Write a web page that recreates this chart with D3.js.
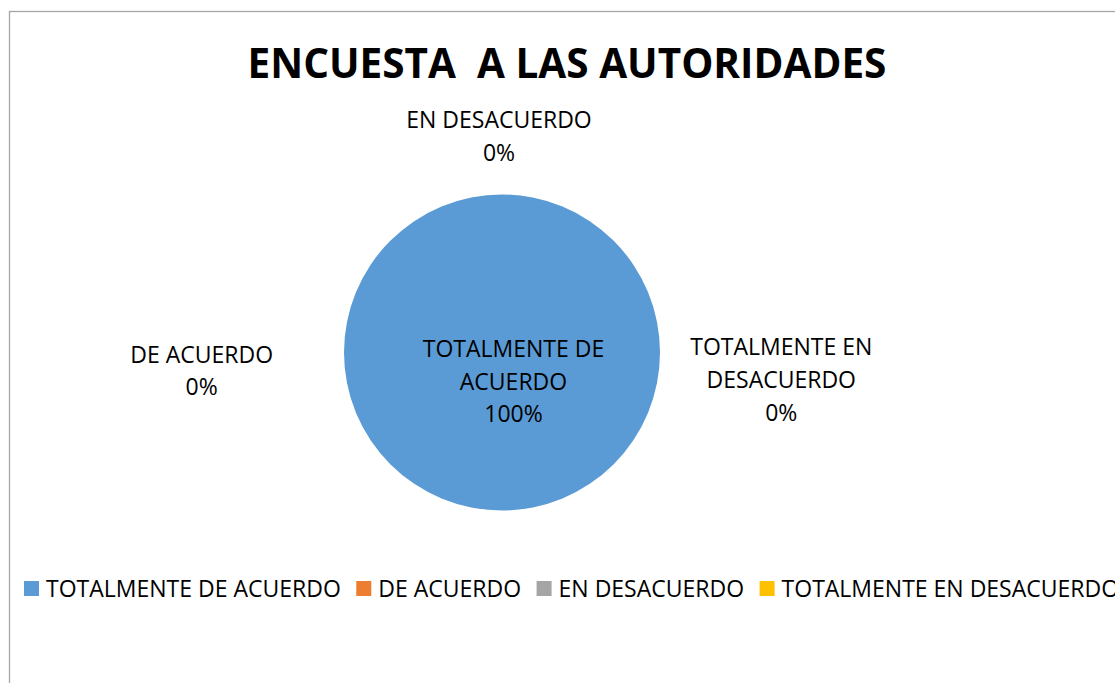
<!DOCTYPE html>
<html><head><meta charset="utf-8">
<script src="https://cdn.jsdelivr.net/npm/d3@7"></script>
<style>
body{margin:0;background:#fff;overflow:hidden}
svg{display:block}
text{font-family:"Open Sans",sans-serif;fill:#000}
</style></head>
<body>
<svg id="c" width="1115" height="683"></svg>
<script>
const categories = ["TOTALMENTE DE ACUERDO","DE ACUERDO","EN DESACUERDO","TOTALMENTE EN DESACUERDO"];
const values = [100, 0, 0, 0];
const colors = ["#5B9BD5","#ED7D31","#A5A5A5","#FFC000"];
const percentLabels = ["100%","0%","0%","0%"];
const titleText = "ENCUESTA\u00A0 A LAS AUTORIDADES";

const svg = d3.select("#c");
// chart border (extends beyond viewport on right/bottom)
svg.append("rect").attr("x",9.5).attr("y",11.5).attr("width",1200).attr("height",800)
  .attr("fill","#fff").attr("stroke","#a6a6a6").attr("stroke-width",1.3);

svg.append("text").attr("x",567).attr("y",78).attr("text-anchor","middle")
  .style("font-weight","bold").style("font-size","40.5px")
  .text(titleText);

const cx = 502, cy = 352.5, r = 158;
const color = d3.scaleOrdinal().domain(categories).range(colors);
const pie = d3.pie().sort(null).value(d=>d.v);
const data = categories.map((c,i)=>({c, v: values[i], p: percentLabels[i]}));
const arcs = pie(data);
const arc = d3.arc().innerRadius(0).outerRadius(r);
const g = svg.append("g").attr("transform",`translate(${cx},${cy})`);
g.selectAll("path").data(arcs).join("path")
  .attr("d", arc).attr("fill", d=>color(d.data.c)).attr("stroke","none");

// data labels (line-split as in the original)
const labelLines = [
  ["TOTALMENTE DE","ACUERDO"],
  ["DE ACUERDO"],
  ["EN DESACUERDO"],
  ["TOTALMENTE EN","DESACUERDO"]
];
// offsets of label centre x / first baseline relative to pie centre
const labelPos = [[11.5,4.5],[-300.3,10],[-3,-224.2],[279.3,2.8]];
const lh = 32.7;
data.forEach((d,i)=>{
  const lines = labelLines[i].concat([d.p]);
  const t = svg.append("text").attr("text-anchor","middle").style("font-size","23px");
  const x0 = cx + labelPos[i][0];
  const y0 = cy + labelPos[i][1];
  lines.forEach((ln,j)=>{
    t.append("tspan").attr("x",x0).attr("y",y0 + j*lh).text(ln);
  });
});

// legend
const lg = svg.append("g");
let lx = 24; const ly = 588.5;
data.forEach((d,i)=>{
  lg.append("rect").attr("x",lx).attr("y",ly-7.5).attr("width",15).attr("height",15)
    .attr("fill", color(d.c));
  const t = lg.append("text").attr("x",lx+22).attr("y",ly+8.2).style("font-size","23px").text(d.c);
  lx += 22 + t.node().getComputedTextLength() + 15.5;
});
</script>
</body></html>
